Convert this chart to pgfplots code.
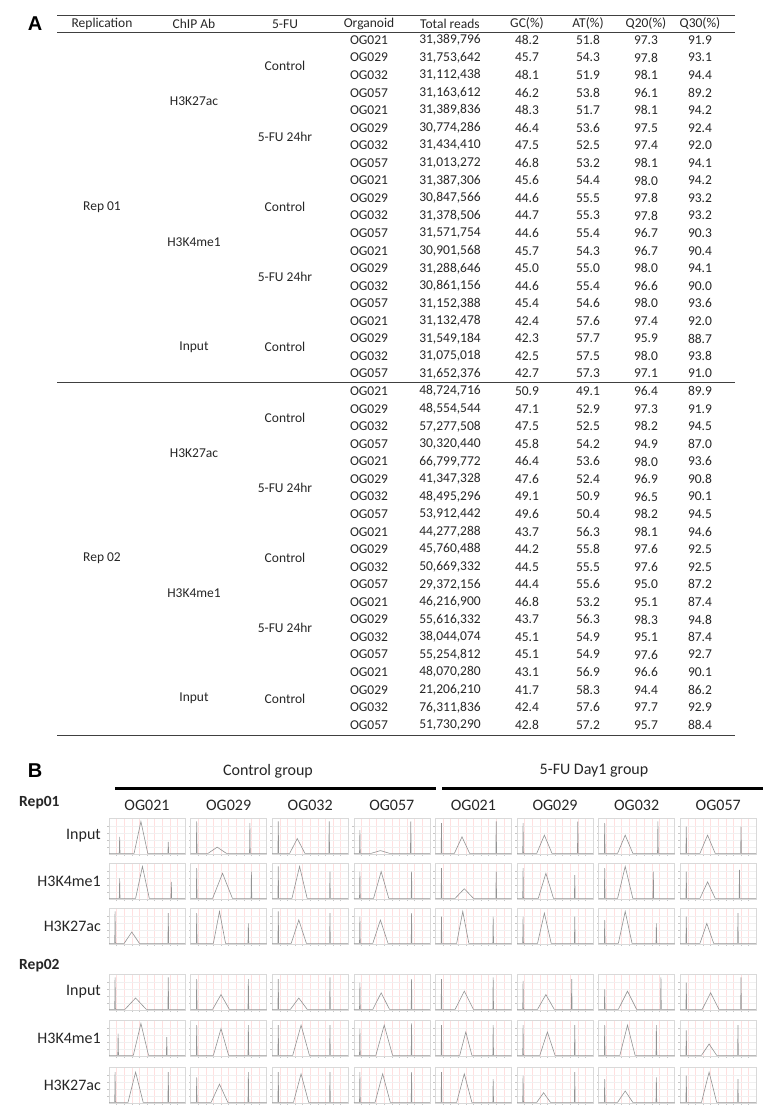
\documentclass[border=0pt]{standalone}
\usepackage{pgfplots}
\pgfplotsset{compat=1.18}
\usepackage{fontspec}
\setmainfont{Carlito}
\newfontfamily\panelfont{Liberation Sans}

% style of one small trace panel
\pgfplotsset{cell/.style={anchor=center, scale only axis, width=76pt, height=36pt,
  xmin=0, xmax=100, ymin=0, ymax=105,
  axis line style={gray!30, line width=0.3pt},
  xtick={10,20,...,90}, ytick={20,40,60,80},
  xticklabels={}, yticklabels={},
  xtick pos=bottom, ytick pos=left,
  tick style={gray!45, line width=0.3pt}, major tick length=2pt, tick align=outside,
  xmajorgrids, ymajorgrids,
  x grid style={red!12, line width=0.3pt},
  y grid style={gray!12, line width=0.3pt}},
  trace/.style={gray!85, line width=0.6pt}}

\newcommand{\cell}[3]{%
  \begin{axis}[cell, at={(#1pt,-#2pt)}]
  \addplot[trace] coordinates {#3};
  \end{axis}}

% one row of the table: row number, organoid, reads, GC, AT, Q20, Q30
\newcommand{\trow}[7]{%
  \pgfmathsetmacro\yy{-(40+17.56*(#1-1))}
  \node at (369pt,\yy pt) {#2};
  \node at (450pt,\yy pt) {#3};
  \node at (527pt,\yy pt) {#4};
  \node at (588pt,\yy pt) {#5};
  \node at (646pt,\yy pt) {#6};
  \node at (700pt,\yy pt) {#7};}

\begin{document}
\begin{tikzpicture}
\path[use as bounding box] (0,0) rectangle (778pt,-1110pt);

% ---------------- panel A ----------------
\node[font=\panelfont\bfseries\fontsize{20}{20}\selectfont] at (35pt,-24pt) {A};
\begin{scope}[every node/.style={font=\fontsize{13.5}{13.5}\selectfont, text=black!85, inner sep=0pt}]
\node at (102pt,-24pt) {Replication};
\node at (194pt,-24pt) {ChIP Ab};
\node at (285pt,-24pt) {5-FU};
\node at (369pt,-24pt) {Organoid};
\node at (450pt,-24pt) {Total reads};
\node at (527pt,-24pt) {GC(\%)};
\node at (588pt,-24pt) {AT(\%)};
\node at (646pt,-24pt) {Q20(\%)};
\node at (700pt,-24pt) {Q30(\%)};

\node at (102pt,-207pt) {Rep 01};
\node at (102pt,-558pt) {Rep 02};
\node at (194pt,-101.5pt) {H3K27ac};
\node at (194pt,-241.9pt) {H3K4me1};
\node at (194pt,-347.3pt) {Input};
\node at (194pt,-452.7pt) {H3K27ac};
\node at (194pt,-593.1pt) {H3K4me1};
\node at (194pt,-698.5pt) {Input};
\node at (285pt,-66.3pt) {Control};
\node at (285pt,-136.6pt) {5-FU 24hr};
\node at (285pt,-206.8pt) {Control};
\node at (285pt,-277.1pt) {5-FU 24hr};
\node at (285pt,-347.3pt) {Control};
\node at (285pt,-417.5pt) {Control};
\node at (285pt,-487.8pt) {5-FU 24hr};
\node at (285pt,-558.0pt) {Control};
\node at (285pt,-628.3pt) {5-FU 24hr};
\node at (285pt,-698.5pt) {Control};

\trow{1}{OG021}{31,389,796}{48.2}{51.8}{97.3}{91.9}
\trow{2}{OG029}{31,753,642}{45.7}{54.3}{97.8}{93.1}
\trow{3}{OG032}{31,112,438}{48.1}{51.9}{98.1}{94.4}
\trow{4}{OG057}{31,163,612}{46.2}{53.8}{96.1}{89.2}
\trow{5}{OG021}{31,389,836}{48.3}{51.7}{98.1}{94.2}
\trow{6}{OG029}{30,774,286}{46.4}{53.6}{97.5}{92.4}
\trow{7}{OG032}{31,434,410}{47.5}{52.5}{97.4}{92.0}
\trow{8}{OG057}{31,013,272}{46.8}{53.2}{98.1}{94.1}
\trow{9}{OG021}{31,387,306}{45.6}{54.4}{98.0}{94.2}
\trow{10}{OG029}{30,847,566}{44.6}{55.5}{97.8}{93.2}
\trow{11}{OG032}{31,378,506}{44.7}{55.3}{97.8}{93.2}
\trow{12}{OG057}{31,571,754}{44.6}{55.4}{96.7}{90.3}
\trow{13}{OG021}{30,901,568}{45.7}{54.3}{96.7}{90.4}
\trow{14}{OG029}{31,288,646}{45.0}{55.0}{98.0}{94.1}
\trow{15}{OG032}{30,861,156}{44.6}{55.4}{96.6}{90.0}
\trow{16}{OG057}{31,152,388}{45.4}{54.6}{98.0}{93.6}
\trow{17}{OG021}{31,132,478}{42.4}{57.6}{97.4}{92.0}
\trow{18}{OG029}{31,549,184}{42.3}{57.7}{95.9}{88.7}
\trow{19}{OG032}{31,075,018}{42.5}{57.5}{98.0}{93.8}
\trow{20}{OG057}{31,652,376}{42.7}{57.3}{97.1}{91.0}
\trow{21}{OG021}{48,724,716}{50.9}{49.1}{96.4}{89.9}
\trow{22}{OG029}{48,554,544}{47.1}{52.9}{97.3}{91.9}
\trow{23}{OG032}{57,277,508}{47.5}{52.5}{98.2}{94.5}
\trow{24}{OG057}{30,320,440}{45.8}{54.2}{94.9}{87.0}
\trow{25}{OG021}{66,799,772}{46.4}{53.6}{98.0}{93.6}
\trow{26}{OG029}{41,347,328}{47.6}{52.4}{96.9}{90.8}
\trow{27}{OG032}{48,495,296}{49.1}{50.9}{96.5}{90.1}
\trow{28}{OG057}{53,912,442}{49.6}{50.4}{98.2}{94.5}
\trow{29}{OG021}{44,277,288}{43.7}{56.3}{98.1}{94.6}
\trow{30}{OG029}{45,760,488}{44.2}{55.8}{97.6}{92.5}
\trow{31}{OG032}{50,669,332}{44.5}{55.5}{97.6}{92.5}
\trow{32}{OG057}{29,372,156}{44.4}{55.6}{95.0}{87.2}
\trow{33}{OG021}{46,216,900}{46.8}{53.2}{95.1}{87.4}
\trow{34}{OG029}{55,616,332}{43.7}{56.3}{98.3}{94.8}
\trow{35}{OG032}{38,044,074}{45.1}{54.9}{95.1}{87.4}
\trow{36}{OG057}{55,254,812}{45.1}{54.9}{97.6}{92.7}
\trow{37}{OG021}{48,070,280}{43.1}{56.9}{96.6}{90.1}
\trow{38}{OG029}{21,206,210}{41.7}{58.3}{94.4}{86.2}
\trow{39}{OG032}{76,311,836}{42.4}{57.6}{97.7}{92.9}
\trow{40}{OG057}{51,730,290}{42.8}{57.2}{95.7}{88.4}
\end{scope}
\draw[black!75, line width=1pt] (57pt,-16pt) -- (735pt,-16pt);
\draw[black!75, line width=0.8pt] (57pt,-32.5pt) -- (735pt,-32.5pt);
\draw[black!75, line width=0.8pt] (57pt,-382.5pt) -- (735pt,-382.5pt);
\draw[black!75, line width=1.6pt] (57pt,-735.5pt) -- (735pt,-735.5pt);

% ---------------- panel B ----------------
\node[font=\panelfont\bfseries\fontsize{20}{20}\selectfont] at (35pt,-771pt) {B};
\begin{scope}[every node/.style={font=\fontsize{16}{16}\selectfont, text=black!85, inner sep=0pt}]
\node at (268pt,-771pt) {Control group};
\node at (594pt,-771pt) {5-FU Day1 group};
\foreach \x/\o in {147/OG021,228.6/OG029,310.2/OG032,391.8/OG057,473.4/OG021,555/OG029,636.6/OG032,718.2/OG057}
  \node at (\x pt,-805pt) {\o};
\node[anchor=west, font=\bfseries\fontsize{15.5}{15.5}\selectfont] at (19pt,-803pt) {Rep01};
\node[anchor=west, font=\bfseries\fontsize{15.5}{15.5}\selectfont] at (19pt,-966pt) {Rep02};
\foreach \y/\l in {836/Input,881/H3K4me1,926/H3K27ac,992/Input,1038/H3K4me1,1085/H3K27ac}
  \node[anchor=east] at (101pt,-\y pt) {\l};
\end{scope}
\draw[black, line width=3pt] (115pt,-788pt) -- (436pt,-788pt);
\draw[black, line width=3pt] (442pt,-788pt) -- (763pt,-788pt);

% Rep01 Input
\cell{147}{836}{(0,2)(13.5,2)(14,50)(14.5,2)(33,2)(42,95)(51,2)(77.5,2)(78,35)(78.5,2)(100,2)}
\cell{228.6}{836}{(0,2)(7.5,2)(8,95)(8.5,2)(23,2)(35,20)(47,2)(77.5,2)(78,90)(78.5,2)(100,2)}
\cell{310.2}{836}{(0,2)(7.5,2)(8,95)(8.5,2)(23,2)(33,45)(43,2)(74.5,2)(75,95)(75.5,2)(100,2)}
\cell{391.8}{836}{(0,2)(7.5,2)(8,70)(8.5,2)(23,2)(35,10)(47,2)(74.5,2)(75,95)(75.5,2)(100,2)}
\cell{473.4}{836}{(0,2)(7.5,2)(8,90)(8.5,2)(25,2)(35,50)(45,2)(79.5,2)(80,95)(80.5,2)(100,2)}
\cell{555}{836}{(0,2)(7.5,2)(8,90)(8.5,2)(26,2)(36,55)(46,2)(79.5,2)(80,95)(80.5,2)(100,2)}
\cell{636.6}{836}{(0,2)(7.5,2)(8,90)(8.5,2)(25,2)(35,55)(45,2)(77.5,2)(78,95)(78.5,2)(100,2)}
\cell{718.2}{836}{(0,2)(7.5,2)(8,80)(8.5,2)(26,2)(36,55)(46,2)(79.5,2)(80,80)(80.5,2)(100,2)}
% Rep01 H3K4me1
\cell{147}{881}{(0,2)(13.5,2)(14,60)(14.5,2)(35,2)(44,95)(53,2)(81.5,2)(82,50)(82.5,2)(100,2)}
\cell{228.6}{881}{(0,2)(7.5,2)(8,90)(8.5,2)(29,2)(42,75)(55,2)(79.5,2)(80,80)(80.5,2)(100,2)}
\cell{310.2}{881}{(0,2)(7.5,2)(8,95)(8.5,2)(26,2)(36,95)(46,2)(75.5,2)(76,80)(76.5,2)(100,2)}
\cell{391.8}{881}{(0,2)(7.5,2)(8,80)(8.5,2)(26,2)(36,80)(46,2)(75.5,2)(76,80)(76.5,2)(100,2)}
\cell{473.4}{881}{(0,2)(7.5,2)(8,90)(8.5,2)(26,2)(38,30)(50,2)(79.5,2)(80,80)(80.5,2)(100,2)}
\cell{555}{881}{(0,2)(7.5,2)(8,90)(8.5,2)(28,2)(38,75)(48,2)(75.5,2)(76,70)(76.5,2)(100,2)}
\cell{636.6}{881}{(0,2)(7.5,2)(8,90)(8.5,2)(25,2)(35,95)(45,2)(71.5,2)(72,80)(72.5,2)(100,2)}
\cell{718.2}{881}{(0,2)(7.5,2)(8,80)(8.5,2)(26,2)(36,50)(46,2)(77.5,2)(78,85)(78.5,2)(100,2)}
% Rep01 H3K27ac
\cell{147}{926}{(0,2)(7.5,2)(8,95)(8.5,2)(20,2)(30,35)(40,2)(77.5,2)(78,90)(78.5,2)(100,2)}
\cell{228.6}{926}{(0,2)(7.5,2)(8,90)(8.5,2)(30,2)(38,95)(46,2)(75.5,2)(76,60)(76.5,2)(100,2)}
\cell{310.2}{926}{(0,2)(7.5,2)(8,95)(8.5,2)(25,2)(35,70)(45,2)(75.5,2)(76,90)(76.5,2)(100,2)}
\cell{391.8}{926}{(0,2)(7.5,2)(8,80)(8.5,2)(25,2)(35,70)(45,2)(75.5,2)(76,90)(76.5,2)(100,2)}
\cell{473.4}{926}{(0,2)(7.5,2)(8,80)(8.5,2)(28,2)(36,95)(44,2)(75.5,2)(76,80)(76.5,2)(100,2)}
\cell{555}{926}{(0,2)(7.5,2)(8,80)(8.5,2)(27,2)(36,90)(45,2)(75.5,2)(76,80)(76.5,2)(100,2)}
\cell{636.6}{926}{(0,2)(7.5,2)(8,70)(8.5,2)(26,2)(35,95)(44,2)(75.5,2)(76,60)(76.5,2)(100,2)}
\cell{718.2}{926}{(0,2)(7.5,2)(8,80)(8.5,2)(26,2)(35,60)(44,2)(75.5,2)(76,90)(76.5,2)(100,2)}
% Rep02 Input
\cell{147}{992}{(0,2)(7.5,2)(8,95)(8.5,2)(21,2)(35,35)(49,2)(77.5,2)(78,95)(78.5,2)(100,2)}
\cell{228.6}{992}{(0,2)(7.5,2)(8,90)(8.5,2)(29,2)(40,45)(51,2)(75.5,2)(76,90)(76.5,2)(100,2)}
\cell{310.2}{992}{(0,2)(7.5,2)(8,90)(8.5,2)(24,2)(35,35)(46,2)(75.5,2)(76,95)(76.5,2)(100,2)}
\cell{391.8}{992}{(0,2)(7.5,2)(8,80)(8.5,2)(25,2)(36,50)(47,2)(75.5,2)(76,90)(76.5,2)(100,2)}
\cell{473.4}{992}{(0,2)(7.5,2)(8,90)(8.5,2)(26,2)(38,55)(50,2)(75.5,2)(76,95)(76.5,2)(100,2)}
\cell{555}{992}{(0,2)(7.5,2)(8,85)(8.5,2)(27,2)(38,45)(49,2)(71.5,2)(72,90)(72.5,2)(100,2)}
\cell{636.6}{992}{(0,2)(7.5,2)(8,60)(8.5,2)(26,2)(38,55)(50,2)(81.5,2)(82,95)(82.5,2)(100,2)}
\cell{718.2}{992}{(0,2)(7.5,2)(8,80)(8.5,2)(29,2)(40,50)(51,2)(79.5,2)(80,95)(80.5,2)(100,2)}
% Rep02 H3K4me1
\cell{147}{1038}{(0,2)(11.5,2)(12,65)(12.5,2)(32,2)(42,95)(52,2)(75.5,2)(76,55)(76.5,2)(100,2)}
\cell{228.6}{1038}{(0,2)(7.5,2)(8,90)(8.5,2)(30,2)(40,80)(50,2)(75.5,2)(76,90)(76.5,2)(100,2)}
\cell{310.2}{1038}{(0,2)(7.5,2)(8,90)(8.5,2)(27,2)(38,90)(49,2)(75.5,2)(76,90)(76.5,2)(100,2)}
\cell{391.8}{1038}{(0,2)(7.5,2)(8,80)(8.5,2)(29,2)(40,90)(51,2)(75.5,2)(76,95)(76.5,2)(100,2)}
\cell{473.4}{1038}{(0,2)(7.5,2)(8,90)(8.5,2)(32,2)(40,70)(48,2)(75.5,2)(76,90)(76.5,2)(100,2)}
\cell{555}{1038}{(0,2)(7.5,2)(8,90)(8.5,2)(30,2)(40,70)(50,2)(75.5,2)(76,90)(76.5,2)(100,2)}
\cell{636.6}{1038}{(0,2)(7.5,2)(8,90)(8.5,2)(28,2)(38,90)(48,2)(75.5,2)(76,90)(76.5,2)(100,2)}
\cell{718.2}{1038}{(0,2)(7.5,2)(8,75)(8.5,2)(28,2)(38,35)(48,2)(75.5,2)(76,90)(76.5,2)(100,2)}
% Rep02 H3K27ac
\cell{147}{1085}{(0,2)(7.5,2)(8,90)(8.5,2)(25,2)(35,90)(45,2)(77.5,2)(78,90)(78.5,2)(100,2)}
\cell{228.6}{1085}{(0,2)(7.5,2)(8,75)(8.5,2)(27,2)(38,55)(49,2)(75.5,2)(76,90)(76.5,2)(100,2)}
\cell{310.2}{1085}{(0,2)(7.5,2)(8,90)(8.5,2)(28,2)(38,85)(48,2)(75.5,2)(76,90)(76.5,2)(100,2)}
\cell{391.8}{1085}{(0,2)(7.5,2)(8,90)(8.5,2)(28,2)(38,85)(48,2)(75.5,2)(76,90)(76.5,2)(100,2)}
\cell{473.4}{1085}{(0,2)(7.5,2)(8,90)(8.5,2)(28,2)(38,85)(48,2)(75.5,2)(76,70)(76.5,2)(100,2)}
\cell{555}{1085}{(0,2)(7.5,2)(8,80)(8.5,2)(26,2)(35,30)(44,2)(75.5,2)(76,90)(76.5,2)(100,2)}
\cell{636.6}{1085}{(0,2)(7.5,2)(8,70)(8.5,2)(25,2)(35,35)(45,2)(75.5,2)(76,75)(76.5,2)(100,2)}
\cell{718.2}{1085}{(0,2)(7.5,2)(8,80)(8.5,2)(28,2)(38,90)(48,2)(75.5,2)(76,70)(76.5,2)(100,2)}
\end{tikzpicture}
\end{document}
